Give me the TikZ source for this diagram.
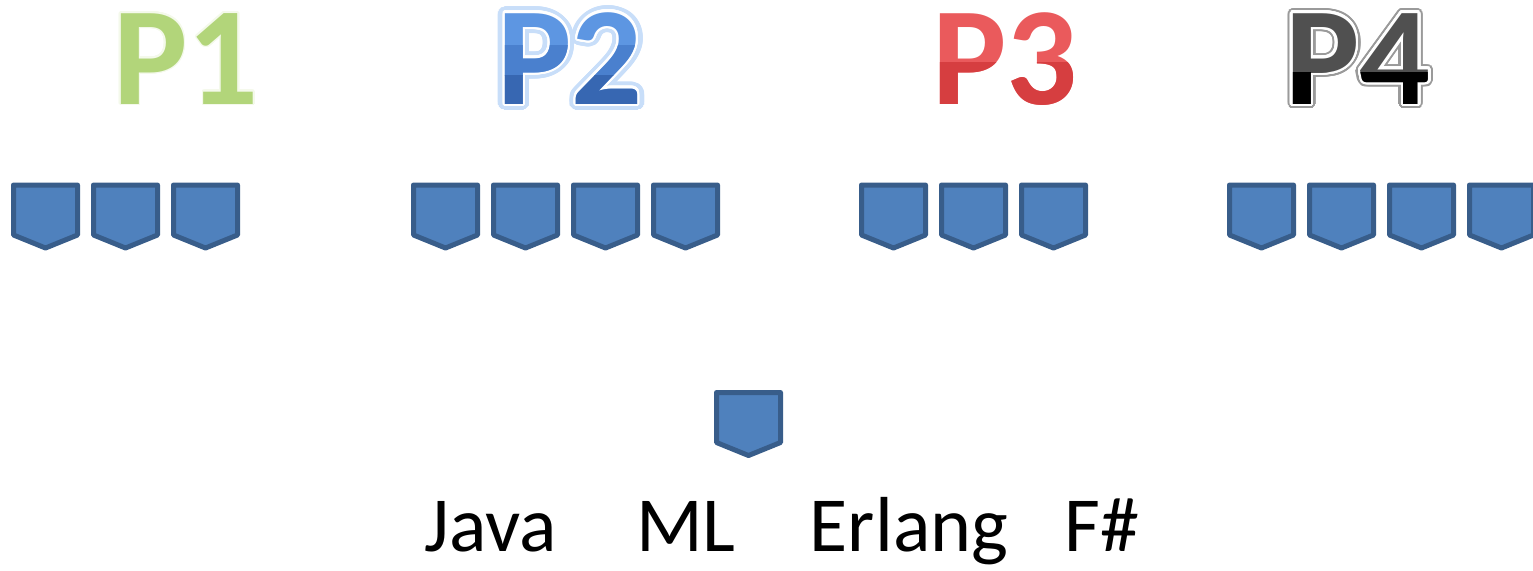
\documentclass[tikz,border=0pt]{standalone}
\usepackage{fontspec}
\usepackage{contour}
\contournumber{32}
\newfontfamily\carlito{Carlito}
\definecolor{boxfill}{HTML}{4F81BD}
\definecolor{boxline}{HTML}{385D8A}
\definecolor{pone}{HTML}{B2D57A}
\definecolor{ptwotop}{HTML}{5D96E2}
\definecolor{ptwomid}{HTML}{4A80CE}
\definecolor{ptwolow}{HTML}{3767B2}
\definecolor{ptwoglow}{HTML}{C8DEF9}
\definecolor{pthreetop}{HTML}{EA5A5C}
\definecolor{pthreelow}{HTML}{D63E40}
\definecolor{pfourtop}{HTML}{505050}
\definecolor{pfourshade}{HTML}{9A9A9A}
\tikzset{
  chev/.pic={\draw[fill=boxfill,draw=boxline,line width=2.5pt,line join=round]
     (0,0) -- (64,0) -- (64,50) -- (32,63) -- (0,50) -- cycle;},
  plabel/.style={anchor=base,inner sep=0pt,font=\carlito\bfseries\fontsize{70}{70}\selectfont},
  word/.style={anchor=base,inner sep=0pt,font=\carlito\fontsize{39}{40}\selectfont,text=black}
}
\begin{document}
\begin{tikzpicture}[x=0.5pt,y=-0.5pt]
\useasboundingbox (0,0) rectangle (1533,570);
% P1
\node[plabel,text=pone] (p1) at (186,104) {\contourlength{0.7pt}\contour{white!85!pone}{P1}};
% P2: glow, white outline, gradient
\node[plabel,text=ptwoglow] (p2glow) at (570,104) {\contourlength{3.2pt}\contour{ptwoglow}{P2}};
\node[plabel,text=ptwotop] (p2) at (570,104) {\contourlength{1.1pt}\contour{white}{P2}};
\begin{scope}
  \clip (450,45) rectangle (700,75);
  \node[plabel,text=ptwomid] (p2mid) at (570,104) {P2};
\end{scope}
\begin{scope}
  \clip (450,75) rectangle (700,130);
  \node[plabel,text=ptwolow] (p2low) at (570,104) {P2};
\end{scope}
% P3
\node[plabel,text=pthreetop] (p3) at (1005,104) {P3};
\begin{scope}
  \clip (900,62) rectangle (1110,130);
  \node[plabel,text=pthreelow] (p3low) at (1005,104) {P3};
\end{scope}
% P4: shadow, white outline, two-tone fill
\node[plabel,text=pfourshade] (p4shadow) at (1358,104) {\contourlength{2.4pt}\contour{pfourshade}{P4}};
\node[plabel,text=pfourtop] (p4) at (1358,104) {\contourlength{1.3pt}\contour{white}{P4}};
\begin{scope}
  \clip (1250,72) rectangle (1470,130);
  \node[plabel,text=black] (p4low) at (1358,104) {P4};
\end{scope}
% rows of boxes
\foreach \x in {13.5,93.5,173.5} \pic at (\x,185) {chev};
\foreach \x in {413.5,493.5,573.5,653.5} \pic at (\x,185) {chev};
\foreach \x in {861.5,941.5,1021.5} \pic at (\x,185) {chev};
\foreach \x in {1229.5,1309.5,1389.5,1469.5} \pic at (\x,185) {chev};
\pic at (716.5,392.5) {chev};
% languages
\node[word] (java)   at (491,551) {Java};
\node[word] (ml)     at (686,551) {ML};
\node[word] (erlang) at (909,551) {Erlang};
\node[word] (fsharp) at (1102,551) {F\#};
\end{tikzpicture}
\end{document}
